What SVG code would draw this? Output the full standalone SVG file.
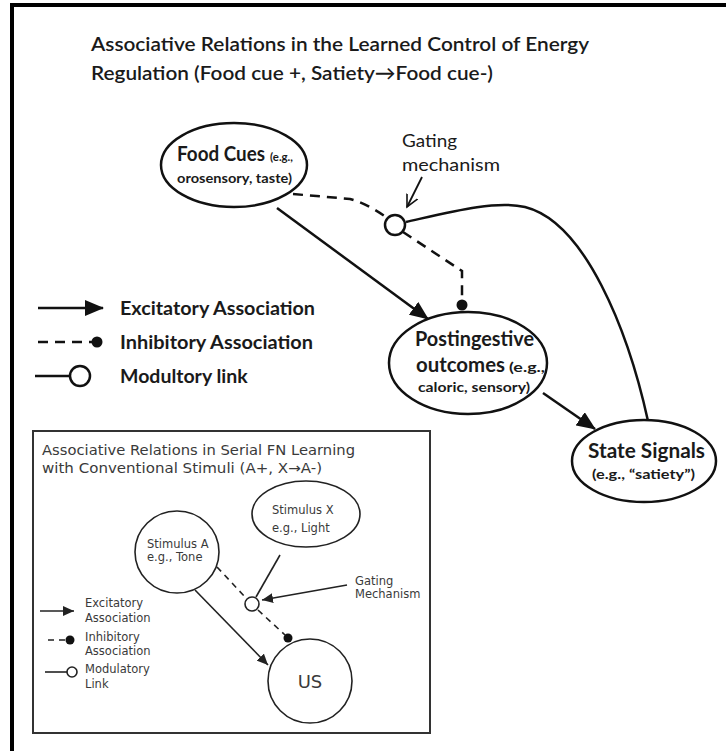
<svg xmlns="http://www.w3.org/2000/svg" width="726" height="751" viewBox="0 0 726 751">
<style>
.main{font-family:Lato,"Liberation Sans",sans-serif;fill:#1a1a1a}
.b{font-weight:bold}
.ins{font-family:"DejaVu Sans",Verdana,sans-serif;fill:#3a3a3a}
.node{fill:#fff;stroke:#111;stroke-width:2.5}
.inode{fill:#fff;stroke:#222;stroke-width:1.6}
.ln{fill:none;stroke:#111;stroke-width:2.5}
.dash{fill:none;stroke:#111;stroke-width:2.5;stroke-dasharray:10 7}
.iln{fill:none;stroke:#222;stroke-width:1.6}
.idash{fill:none;stroke:#222;stroke-width:1.6;stroke-dasharray:6 5}
</style>
<defs>
<marker id="ah" markerUnits="userSpaceOnUse" markerWidth="20" markerHeight="16" refX="18" refY="8" orient="auto">
<path d="M0,0 L19,8 L0,16 Z" fill="#111"/>
</marker>
<marker id="ahs" markerUnits="userSpaceOnUse" markerWidth="12" markerHeight="10" refX="11" refY="5" orient="auto">
<path d="M0,0 L11,5 L0,10 Z" fill="#222"/>
</marker>
<marker id="ahopen" markerUnits="userSpaceOnUse" markerWidth="14" markerHeight="14" refX="12" refY="7" orient="auto">
<path d="M0,1 L12,7 L0,13" fill="none" stroke="#111" stroke-width="1.6"/>
</marker>
</defs>
<rect width="726" height="751" fill="#fff"/>
<g id="frame">
<line x1="10" y1="5" x2="726" y2="5" stroke="#000" stroke-width="4"/>
<line x1="12" y1="3" x2="12" y2="751" stroke="#000" stroke-width="4"/>
</g>
<g id="title" class="main">
<text x="91" y="51" font-size="20" font-weight="600" textLength="498" lengthAdjust="spacingAndGlyphs">Associative Relations in the Learned Control of Energy</text>
<text x="91" y="80" font-size="20" font-weight="600" textLength="402" lengthAdjust="spacingAndGlyphs">Regulation (Food cue +, Satiety→Food cue-)</text>
</g>
<g id="connectors">
<line class="ln" x1="277" y1="208" x2="428" y2="319" marker-end="url(#ah)"/>
<path class="dash" d="M293,194 L350,199 Q366,203 386,217"/>
<path class="dash" d="M403,232 L462,271 L462,300"/>
<circle cx="462" cy="305" r="5.5" fill="#111"/>
<path class="ln" d="M406,222 C450,212 495,200 525,207 C585,222 628,330 648,421"/>
<line class="ln" x1="543" y1="393" x2="595" y2="429" marker-end="url(#ah)"/>
<line x1="422" y1="177" x2="407" y2="207" stroke="#111" stroke-width="1.8" marker-end="url(#ahopen)"/>
</g>
<g id="gate">
<circle cx="395" cy="225" r="10" fill="#fff" stroke="#111" stroke-width="2.5"/>
<text class="main" x="402" y="147" font-size="16.5" textLength="55" lengthAdjust="spacingAndGlyphs">Gating</text>
<text class="main" x="402" y="171" font-size="16.5" textLength="98" lengthAdjust="spacingAndGlyphs">mechanism</text>
</g>
<g id="food-cues">
<ellipse class="node" cx="234" cy="165" rx="73" ry="42"/>
<text class="main b" x="177" y="161" font-size="20" textLength="88" lengthAdjust="spacingAndGlyphs">Food Cues</text>
<text class="main b" x="270" y="161" font-size="12" textLength="23" lengthAdjust="spacingAndGlyphs">(e.g.,</text>
<text class="main b" x="177" y="183" font-size="13" textLength="115" lengthAdjust="spacingAndGlyphs">orosensory, taste)</text>
</g>
<g id="postingestive">
<ellipse class="node" cx="468" cy="363" rx="79" ry="51"/>
<text class="main b" x="415" y="346" font-size="20" textLength="119" lengthAdjust="spacingAndGlyphs">Postingestive</text>
<text class="main b" x="416" y="372" font-size="20" textLength="89" lengthAdjust="spacingAndGlyphs">outcomes</text>
<text class="main b" x="509" y="372" font-size="13" textLength="36" lengthAdjust="spacingAndGlyphs">(e.g.,</text>
<text class="main b" x="418" y="392" font-size="13.5" textLength="112" lengthAdjust="spacingAndGlyphs">caloric, sensory)</text>
</g>
<g id="state-signals">
<ellipse class="node" cx="644" cy="461" rx="72" ry="41"/>
<text class="main b" x="588" y="458" font-size="20" textLength="117" lengthAdjust="spacingAndGlyphs">State Signals</text>
<text class="main b" x="592" y="479" font-size="13.5" textLength="103" lengthAdjust="spacingAndGlyphs">(e.g., “satiety”)</text>
</g>
<g id="legend">
<line class="ln" x1="38" y1="308" x2="103" y2="308" marker-end="url(#ah)"/>
<text class="main b" x="120" y="315" font-size="19.5" textLength="195" lengthAdjust="spacingAndGlyphs">Excitatory Association</text>
<line class="dash" x1="38" y1="342" x2="92" y2="342" stroke-dasharray="8 6"/>
<circle cx="97" cy="342" r="5.5" fill="#111"/>
<text class="main b" x="120" y="349" font-size="19.5" textLength="193" lengthAdjust="spacingAndGlyphs">Inhibitory Association</text>
<line class="ln" x1="35" y1="376" x2="70" y2="376"/>
<circle cx="80" cy="376" r="10" fill="#fff" stroke="#111" stroke-width="2.5"/>
<text class="main b" x="120" y="383" font-size="19.5">Modultory link</text>
</g>
<g id="inset">
<rect x="33" y="431" width="397" height="302" fill="#fff" stroke="#333" stroke-width="2"/>
<text class="ins" x="42" y="455" font-size="14" textLength="313" lengthAdjust="spacingAndGlyphs">Associative Relations in Serial FN Learning</text>
<text class="ins" x="42" y="473" font-size="14" textLength="280" lengthAdjust="spacingAndGlyphs">with Conventional Stimuli (A+, X→A-)</text>
</g>
<g id="inset-connectors">
<line class="iln" x1="195" y1="590" x2="268" y2="665" marker-end="url(#ahs)"/>
<line class="idash" x1="217" y1="567" x2="246" y2="598"/>
<line class="idash" x1="258" y1="610" x2="285" y2="635"/>
<circle cx="288" cy="638" r="4.5" fill="#111"/>
<line class="iln" x1="280" y1="555" x2="256" y2="597"/>
<line class="iln" x1="347" y1="585" x2="262" y2="600" marker-end="url(#ahs)"/>
</g>
<g id="stimulus-a">
<ellipse class="inode" cx="177" cy="552" rx="42" ry="41"/>
<text class="ins" x="147" y="548" font-size="11.5">Stimulus A</text>
<text class="ins" x="147" y="561" font-size="11.5">e.g., Tone</text>
</g>
<g id="stimulus-x">
<ellipse class="inode" cx="306" cy="514" rx="54" ry="33"/>
<text class="ins" x="272" y="514" font-size="11.5">Stimulus X</text>
<text class="ins" x="272" y="532" font-size="11.5">e.g., Light</text>
</g>
<g id="inset-gate">
<circle cx="252" cy="604" r="7" fill="#fff" stroke="#222" stroke-width="1.6"/>
<text class="ins" x="355" y="585" font-size="11.5">Gating</text>
<text class="ins" x="355" y="598" font-size="11.5">Mechanism</text>
</g>
<g id="us">
<circle class="inode" cx="310" cy="681" r="42"/>
<text class="ins" x="310" y="688" font-size="18" text-anchor="middle">US</text>
</g>
<g id="inset-legend" class="ins">
<line class="iln" x1="40" y1="611" x2="74" y2="611" marker-end="url(#ahs)"/>
<text x="85" y="607" font-size="11.5">Excitatory</text>
<text x="85" y="622" font-size="11.5">Association</text>
<line class="idash" x1="48" y1="640" x2="66" y2="640"/>
<circle cx="70" cy="640" r="4.5" fill="#111"/>
<text x="85" y="641" font-size="11.5">Inhibitory</text>
<text x="85" y="655" font-size="11.5">Association</text>
<line class="iln" x1="45" y1="672" x2="67" y2="672"/>
<circle cx="72" cy="672" r="5" fill="#fff" stroke="#222" stroke-width="1.6"/>
<text x="85" y="673" font-size="11.5">Modulatory</text>
<text x="85" y="688" font-size="11.5">Link</text>
</g>
</svg>
